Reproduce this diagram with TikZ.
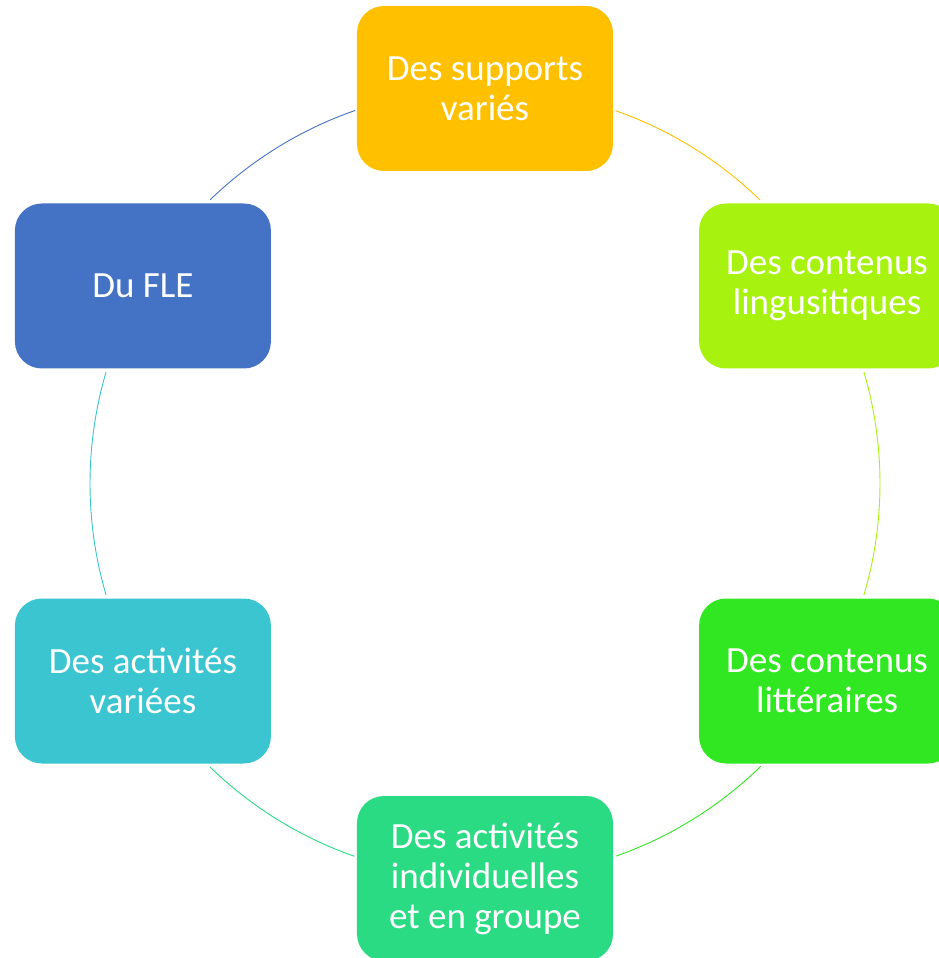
\documentclass[tikz,border=0pt]{standalone}
\usepackage{fontspec}
\setmainfont{Carlito}
\usepackage{tikz}

\definecolor{supports}{HTML}{FFC000}
\definecolor{linguist}{HTML}{A7F20F}
\definecolor{litter}{HTML}{30E722}
\definecolor{groupe}{HTML}{2BDB84}
\definecolor{variees}{HTML}{3AC5D0}
\definecolor{fle}{HTML}{4472C4}

\tikzset{
  box/.style={rectangle, rounded corners=27pt, minimum width=256pt,
    minimum height=165pt, text=white, align=center,
    font=\fontsize{37}{40}\selectfont},
  cycleline/.style={line width=0.9pt}
}

\begin{document}
\begin{tikzpicture}[x=1pt,y=1pt]
      \useasboundingbox (-485,-474.5) rectangle (453,483.5);
      \coordinate (c) at (0,0);
      % the six boxes round the circle
      \node[box, fill=supports] (supports) at (90:395pt) {Des supports\\variés};
      \node[box, fill=linguist] (linguist) at (30:395pt) {Des contenus\\lingusitiques};
      \node[box, fill=litter] (litter) at (-30:395pt) {Des contenus\\littéraires};
      \node[box, fill=groupe] (groupe) at (-90:395pt) {Des activités\\individuelles\\et en groupe};
      \node[box, fill=variees] (variees) at (-150:395pt) {Des activités\\variées};
      \node[box, fill=fle] (fle) at (150:395pt) {Du FLE};
      % arcs between the boxes
      \draw[cycleline, supports] ([shift={(70.7:395pt)}]c) arc[start angle=70.7, end angle=45.9, radius=395pt];
      \draw[cycleline, linguist] ([shift={(16.4:395pt)}]c) arc[start angle=16.4, end angle=-16.4, radius=395pt];
      \draw[cycleline, litter] ([shift={(-45.7:395pt)}]c) arc[start angle=-45.7, end angle=-70.6, radius=395pt];
      \draw[cycleline, groupe] ([shift={(-109.3:395pt)}]c) arc[start angle=-109.3, end angle=-134.2, radius=395pt];
      \draw[cycleline, variees] ([shift={(-163.6:395pt)}]c) arc[start angle=-163.6, end angle=-196.4, radius=395pt];
      \draw[cycleline, fle] ([shift={(134.1:395pt)}]c) arc[start angle=134.1, end angle=109.2, radius=395pt];
\end{tikzpicture}
\end{document}
